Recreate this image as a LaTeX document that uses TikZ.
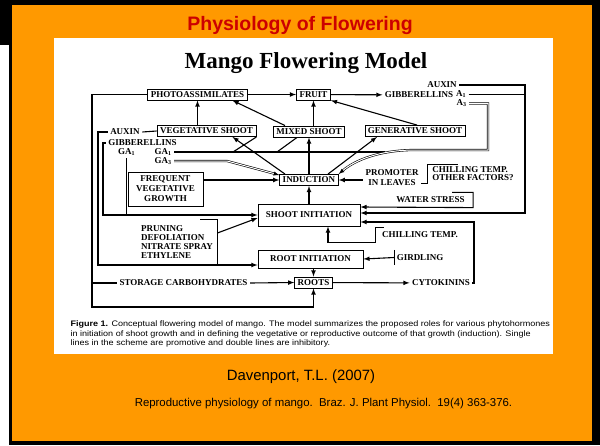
\documentclass[tikz,border=0pt]{standalone}
\usepackage{graphicx}
\usepackage{fontspec}
\setmainfont{Liberation Serif}
\newfontfamily\arial{Liberation Sans}
\definecolor{slide}{HTML}{FF9900}
\definecolor{titlered}{HTML}{CC0000}

\begin{document}
\begin{tikzpicture}[x=1pt,y=-1pt,>=latex,line width=1.1pt]
		\tikzstyle{box}=[draw,line width=0.9pt,inner xsep=3pt,inner ysep=1pt,minimum height=11pt,font=\fontsize{9}{10}\selectfont\bfseries]
		\tikzstyle{lbl}=[inner sep=2pt,font=\fontsize{9}{10}\selectfont\bfseries]
		\tikzstyle{inhib}=[double,double distance=1pt,line width=0.6pt]
		\tikzstyle{every edge}=[draw,line width=1.1pt]
		\useasboundingbox (0,0) rectangle (600,445);
		\fill[black] (0,0) rectangle (600,445);
		\fill[white] (0,45) rectangle (9,445);
		\fill[slide] (12,5) rectangle (592,441);
		\fill[white] (54,38) rectangle (553,354);

		\node (title) at (300,30.5) [anchor=base,text=titlered,font=\arial\fontsize{19.5}{22}\selectfont\bfseries] {Physiology of Flowering};
		\node (model) at (306,68) [anchor=base,font=\fontsize{23}{26}\selectfont\bfseries] {Mango Flowering Model};

		\node (pa) at (197.5,94.5) [box] {PHOTOASSIMILATES};
		\node (fruit) at (313.5,94.5) [box] {FRUIT};
		\node (gib1) at (419,95) [lbl] {GIBBERELLINS};
		\node (aux1) at (442,85) [lbl] {AUXIN};
		\node (a1) at (461,94.5) [lbl] {A\textsubscript{1}};
		\node (a2) at (461.5,103.5) [lbl] {A\textsubscript{3}};
		\node (veg) at (206.5,131) [box] {VEGETATIVE SHOOT};
		\node (mix) at (309,131.5) [box] {MIXED SHOOT};
		\node (gen) at (415,131) [box] {GENERATIVE SHOOT};
		\node (aux2) at (125,132) [lbl] {AUXIN};
		\node (gib2) at (142.5,143) [lbl] {GIBBERELLINS};
		\node (ga0) at (126.5,152) [lbl] {GA\textsubscript{1}};
		\node (ga1) at (163,152) [lbl] {GA\textsubscript{1}};
		\node (ga2) at (163,161) [lbl] {GA\textsubscript{3}};
		\node (ind) at (309,180) [box] {INDUCTION};
		\node (freq) at (165.5,189) [box,align=center,minimum width=75pt,minimum height=34pt] {FREQUENT\\VEGETATIVE\\GROWTH};
		\node (prom) at (392,178) [lbl,align=center] {PROMOTER\\IN LEAVES};
		\node (chill1) at (473,174) [lbl,align=left,font=\fontsize{9}{8}\selectfont\bfseries] {CHILLING TEMP.\\OTHER FACTORS?};
		\node (water) at (430.5,200) [lbl,inner ysep=4pt] {WATER STRESS};
		\node (shoot) at (309,215) [box,minimum width=102pt,minimum height=22pt] {SHOOT INITIATION};
		\node (prune) at (177,242) [lbl,align=left,inner xsep=4pt,inner ysep=5.5pt,font=\fontsize{9}{9}\selectfont\bfseries] {PRUNING\\DEFOLIATION\\NITRATE SPRAY\\ETHYLENE};
		\node (chill2) at (420,235) [lbl,inner ysep=4pt] {CHILLING TEMP.};
		\node (root) at (310.5,259) [box,minimum width=105pt,minimum height=18pt] {ROOT INITIATION};
		\node (gird) at (420,257.5) [lbl,inner ysep=4pt] {GIRDLING};
		\node (roots) at (313.5,282.5) [box] {ROOTS};
		\node (cyto) at (441,283) [lbl] {CYTOKININS};
		\node (store) at (183.5,283) [lbl] {STORAGE CARBOHYDRATES};

		\coordinate (ob) at (92,307);
		\coordinate (ax) at (98,265);
		\coordinate (gx) at (103,215);
		\coordinate (ar) at (525,213);
		\coordinate (a2r) at (488,150);
		\coordinate (a2c) at (415,150);
		\coordinate (cr) at (474,222);
		\coordinate (g1) at (233,152);
		\coordinate (g2) at (277,152);
		\coordinate (g3) at (227,161);
		\coordinate (g4) at (385,152);

		\path [->] (pa) edge (fruit);
		\path [->] (fruit) edge (gib1);
		\path [->] (veg.north -| pa.south) edge (pa.south);
		\path [->] (mix.north -| fruit.south) edge (fruit.south);
		\path [->] ([xshift=-24pt]mix.north) edge ([xshift=35pt]pa.south);
		\path [->] ([xshift=2pt]gen.north) edge (fruit.south east);
		\path [->] ([xshift=-24pt]ind.north) edge ([xshift=26pt]veg.south);
		\path [->] (ind) edge (mix);
		\path [->] ([xshift=19pt]ind.north) edge ([xshift=-38pt]gen.south);
		\path [->] (shoot) edge (ind);
		\path [->] (freq.east |- ind.west) edge (ind.west);
		\path [->] (prom.west |- ind.east) edge (ind.east);
		\path [->] ([yshift=9pt]prune.east) edge ([yshift=-3pt]shoot.west);
		\path [->] (root.south -| roots.north) edge (roots.north);
		\path [->] (roots) edge (cyto);
		\path [->] (store.east) edge (roots.west);
		\path [->] (gird.west) edge (root.east);

		\draw (ob |- store) -- (store.west);
		\draw [->] (pa.west) -| (ob) -| (roots.south);
		\draw (aux2.east) -- (veg.west);
		\draw [->] (aux2.west) -| (ax) -- ([yshift=-6pt]root.west);
		\draw [->] (gib2.west) -| (gx) -- (shoot.west);
		\draw (ga0.south) -- (ga0.south |- gx);
		\draw (ga1.east) -- (g4);
		\draw (veg.south east) -- (g1);
		\draw ([xshift=-12pt]mix.south) -- (g2);
		\draw [->,inhib] (ga2.east) -- (g3) -- ([yshift=5pt]ind.west);
		\draw [->,inhib] (a2.east) -| (a2r) -- (a2c) .. controls (380,150) and (355,160) .. (ind.north east);
		\draw [->] (aux1.east) -| (ar) -- ([yshift=2pt]shoot.east);
		\draw (a1.east) -- (a1.east -| ar);
		\draw [->] ([xshift=-15pt]water.north east) -| ([xshift=6pt]water.south east) -- ([yshift=8pt]shoot.east);
		\draw [->] (cyto.east) -| (cr) -- ([yshift=-7pt]shoot.east);
		\draw [->] ([xshift=4pt]chill2.north west) -| ([xshift=-4pt]chill2.south west) -| ([xshift=19pt]shoot.south);
		\draw (gird.north west) -- (gird.south west);
		\draw ([xshift=28pt]chill1.north west) -| ([xshift=-2pt]chill1.south west);
		\draw (prom.east |- chill1.south west) -- ([xshift=-2pt]chill1.south west);
		\draw ([xshift=-17pt]prune.north east) -| (prune.south east) -- (prune.south west);

		\node (cap) at (70,319.5) [anchor=north west,inner sep=0pt,font=\arial\fontsize{8}{9.5}\selectfont] {\scalebox{1.13}[1]{\begin{tabular}{@{}l@{}}\textbf{Figure 1.} Conceptual flowering model of mango. The model summarizes the proposed roles for various phytohormones\\in initiation of shoot growth and in defining the vegetative or reproductive outcome of that growth (induction). Single\\lines in the scheme are promotive and double lines are inhibitory.\end{tabular}}};
		\node (auth) at (301,380) [anchor=base,font=\arial\fontsize{14.9}{16}\selectfont] {Davenport, T.L. (2007)};
		\node (ref) at (323.5,406) [anchor=base,font=\arial\fontsize{11.4}{13}\selectfont] {Reproductive physiology of mango.\ \ Braz. J. Plant Physiol.\ \ 19(4) 363-376.};
	\end{tikzpicture}
\end{document}
